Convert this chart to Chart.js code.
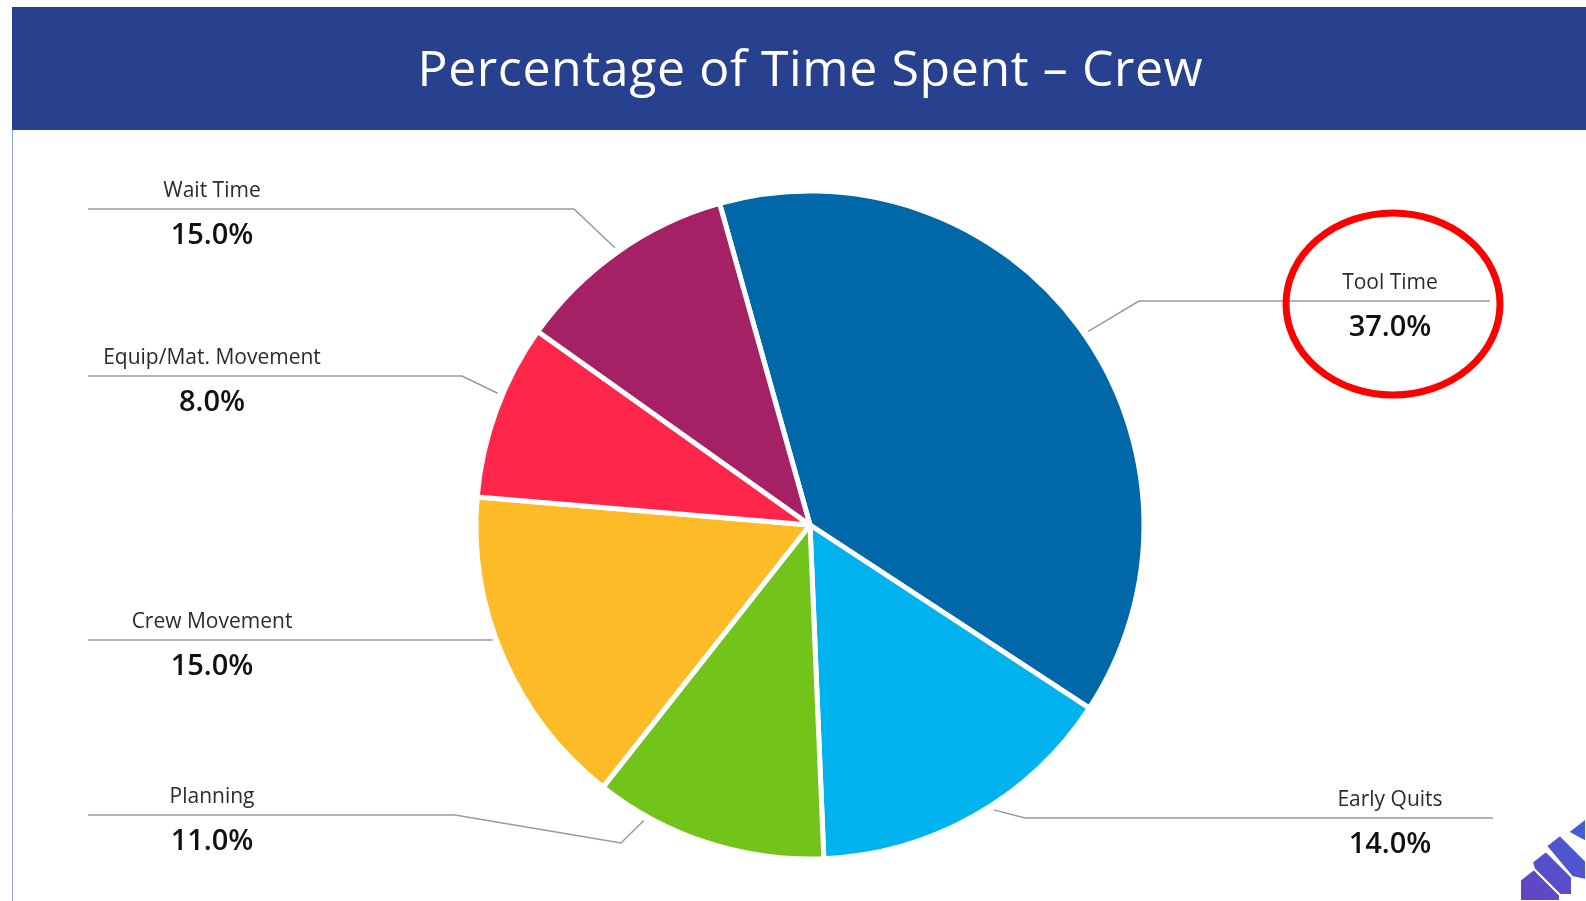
<!DOCTYPE html>
<html>
<head>
<meta charset="utf-8">
<title>Percentage of Time Spent - Crew</title>
<script src="https://cdn.jsdelivr.net/npm/chart.js@4"></script>
<style>
  html, body { margin: 0; padding: 0; background: #fff; overflow: hidden; }
  #wrap { position: relative; width: 1586px; height: 901px; }
</style>
</head>
<body>
<div id="wrap"><canvas id="myChart"></canvas></div>
<script>
// data (slices, label text as printed)
const chartTitle = 'Percentage of Time Spent \u2013 Crew';
const categories = ['Tool Time', 'Early Quits', 'Planning', 'Crew Movement', 'Equip/Mat. Movement', 'Wait Time'];
const sliceValues = [38.6, 15.1, 11.3, 15.7, 8.5, 10.8];
const shownPercent = ['37.0%', '14.0%', '11.0%', '15.0%', '8.0%', '15.0%'];
const sliceColors = ['#0068A8', '#00B3EE', '#72C41B', '#FDBB27', '#FF2649', '#A62066'];

// label layout
const labelSide = ['right', 'right', 'left', 'left', 'left', 'left'];
const ruleY = [301, 818, 815, 640, 376, 209];
const elbowX = [1139, 1025, 455, null, 462, 574];
const anchorFrac = [0.51, 0.44, 0.78, 0.55, 0.59, 0.5];
const extraKnee = { 2: [621, 843] };

var headerPlugin = {
  id: 'header',
  beforeDraw: function(chart) {
    var c = chart.ctx;
    c.save();
    c.fillStyle = '#fff';
    c.fillRect(0, 0, chart.width, chart.height);
    c.fillStyle = '#27418E';
    c.fillRect(12, 7, chart.width - 12, 123);
    c.strokeStyle = '#9AA8D6';
    c.lineWidth = 1;
    c.beginPath();
    c.moveTo(12.5, 130);
    c.lineTo(12.5, chart.height);
    c.stroke();

    // title, spaced out to the width of the original
    c.fillStyle = '#fff';
    c.font = '50px "Open Sans"';
    c.textAlign = 'center';
    c.textBaseline = 'middle';
    var w = c.measureText(chartTitle).width;
    var sp = Math.max(0, (785 - w) / (chartTitle.length - 1));
    c.letterSpacing = sp.toFixed(2) + 'px';
    c.fillText(chartTitle, 810 + sp / 2, 72);
    c.restore();
  }
};

var calloutPlugin = {
  id: 'callouts',
  afterDraw: function(chart) {
    var c = chart.ctx;
    var arcs = chart.getDatasetMeta(0).data;
    c.save();
    arcs.forEach(function(arc, i) {
      var p = arc.getProps(['x', 'y', 'startAngle', 'endAngle', 'outerRadius'], true);
      var a = p.startAngle + (p.endAngle - p.startAngle) * anchorFrac[i];
      var ax = p.x + Math.cos(a) * (p.outerRadius + 5);
      var ay = p.y + Math.sin(a) * (p.outerRadius + 5);
      var right = labelSide[i] === 'right';
      var y = ruleY[i];
      var outerX = right ? (i === 0 ? 1490 : 1493) : 88;
      var textX = right ? 1390 : 212;

      c.strokeStyle = '#9A9A9A';
      c.lineWidth = 1.5;
      c.beginPath();
      c.moveTo(outerX, y);
      if (elbowX[i] === null) {
        c.lineTo(ax, y);
      } else {
        c.lineTo(elbowX[i], y);
        if (extraKnee[i]) c.lineTo(extraKnee[i][0], extraKnee[i][1]);
        c.lineTo(ax, ay);
      }
      c.stroke();

      c.textAlign = 'center';
      c.textBaseline = 'middle';
      c.fillStyle = '#2B2B2B';
      c.font = '21px "Open Sans"';
      c.fillText(categories[i], textX, y - 18);
      c.fillStyle = '#111';
      c.font = '600 29px "Open Sans"';
      c.fillText(shownPercent[i], textX, y + 27);
    });

    // red highlight ring round Tool Time
    c.strokeStyle = '#FF0000';
    c.lineWidth = 7;
    c.beginPath();
    c.ellipse(1393, 304, 107, 91, 0, 0, Math.PI * 2);
    c.stroke();

    // corner logo
    var g = c.createLinearGradient(1510, 900, 1586, 820);
    g.addColorStop(0, '#6A3FC0');
    g.addColorStop(1, '#3E63D6');
    c.fillStyle = g;
    c.strokeStyle = '#fff';
    c.lineWidth = 2;
    var blocks = [
      [[1520, 880], [1534, 869], [1560, 895], [1560, 901], [1520, 901]],
      [[1532, 862], [1546, 851], [1572, 877], [1572, 895], [1560, 895], [1534, 869]],
      [[1546, 846], [1560, 835], [1586, 861], [1586, 880], [1572, 877]],
      [[1568, 832], [1586, 818], [1586, 842]]
    ];
    blocks.forEach(function(b) {
      c.beginPath();
      c.moveTo(b[0][0], b[0][1]);
      for (var k = 1; k < b.length; k++) c.lineTo(b[k][0], b[k][1]);
      c.closePath();
      c.fill();
      c.stroke();
    });
    c.restore();
  }
};

var ctx = document.getElementById('myChart');
var myChart = new Chart(ctx, {
  type: 'pie',
  data: {
    labels: categories,
    datasets: [{
      data: sliceValues,
      backgroundColor: sliceColors,
      borderColor: '#ffffff',
      borderWidth: 5,
      radius: 334
    }]
  },
  options: {
    responsive: true,
    maintainAspectRatio: false,
    animation: false,
    rotation: -15.7,
    layout: {
      padding: { left: 478, right: 444, top: 191, bottom: 42 }
    },
    plugins: {
      legend: { display: false },
      tooltip: { enabled: false },
      title: { display: false, text: chartTitle }
    }
  },
  plugins: [headerPlugin, calloutPlugin]
});
</script>
</body>
</html>
